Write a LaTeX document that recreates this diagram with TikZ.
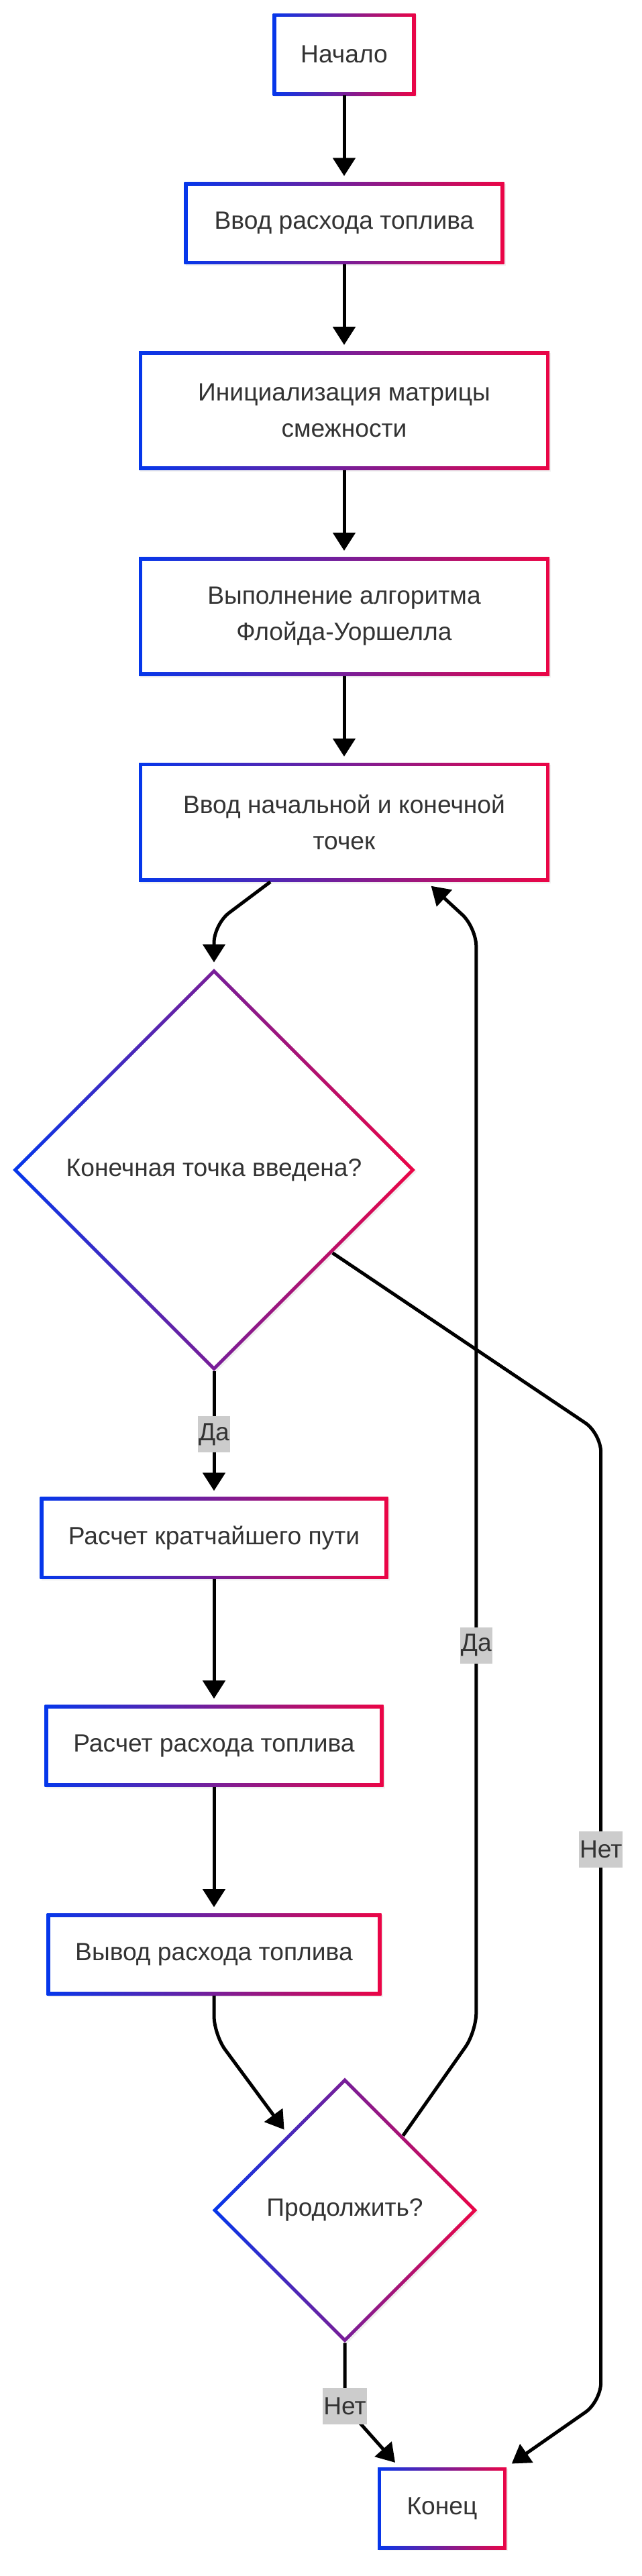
\documentclass[tikz,border=0pt]{standalone}
\usepackage{fontspec}
\setmainfont{Liberation Sans}
\usetikzlibrary{shapes.geometric,arrows.meta,positioning,calc,shadows}
\definecolor{gblue}{RGB}{5,55,235}
\definecolor{gred}{RGB}{235,5,70}
\definecolor{txt}{HTML}{333333}
\definecolor{lbl}{HTML}{CCCCCC}

\begin{document}
\begin{tikzpicture}[>={Triangle[length=13.5pt,width=16.5pt]},node distance=64.5pt]
\tikzstyle{B}=[left color=gblue,right color=gred,minimum height=61pt,align=center,text=txt,font=\fontsize{18.6pt}{27pt}\selectfont,drop shadow={opacity=0.12,shadow xshift=1.2pt,shadow yshift=-1.2pt},path picture={\fill[white] ([shift={(2.6pt,-2.6pt)}]path picture bounding box.north west) rectangle ([shift={(-2.6pt,2.6pt)}]path picture bounding box.south east);}]
\tikzstyle{D}=[diamond,left color=gblue,right color=gred,inner sep=0pt,align=center,text=txt,font=\fontsize{18.6pt}{27pt}\selectfont,drop shadow={opacity=0.12,shadow xshift=1.2pt,shadow yshift=-1.2pt},path picture={\fill[white] ($(path picture bounding box.west)+(3.6pt,0)$) -- ($(path picture bounding box.north)+(0,-3.6pt)$) -- ($(path picture bounding box.east)+(-3.6pt,0)$) -- ($(path picture bounding box.south)+(0,3.6pt)$) -- cycle;}]
\tikzstyle{T}=[sharp corners,fill=lbl,text=txt,font=\fontsize{18.6pt}{27pt}\selectfont,inner xsep=0.5pt,inner ysep=0pt,minimum height=27pt]
\tikzstyle{E}=[->,line width=2.5pt,rounded corners=14pt,shorten >=4.5pt]
\useasboundingbox (0,0) rectangle (478.5pt,-1920pt);
\node[B,minimum width=106.5pt] (st) at (256.5pt,-40.5pt) {Начало};
\node[B,minimum width=238.5pt,below=of st] (b1) {Ввод расхода топлива};
\node[B,minimum width=306pt,minimum height=88.5pt,below=of b1] (b2) {Инициализация матрицы\\смежности};
\node[B,minimum width=306pt,minimum height=88.5pt,below=of b2] (b3) {Выполнение алгоритма\\Флойда-Уоршелла};
\node[B,minimum width=306pt,minimum height=88.5pt,below=of b3] (b4) {Ввод начальной и конечной\\точек};
\node[D,minimum width=300pt,minimum height=300pt,below=of b4,xshift=-97pt] (d1) {Конечная точка введена?};
\node[B,minimum width=259.5pt,below=93.5pt of d1] (b5) {Расчет кратчайшего пути};
\node[B,minimum width=252.5pt,below=93.5pt of b5] (b6) {Расчет расхода топлива};
\node[B,minimum width=249.5pt,below=94pt of b6] (b7) {Вывод расхода топлива};
\node[D,minimum width=197.5pt,minimum height=197.5pt,below=61pt of b7,xshift=97.5pt] (d2) {Продолжить?};
\node[B,minimum width=96pt,below=92.5pt of d2,xshift=72.5pt] (en) {Конец};
\draw[E] (st) -- (b1); \draw[E] (b1) -- (b2);
\draw[E] (b2) -- (b3); \draw[E] (b3) -- (b4);
\draw[E] ([xshift=-55pt]b4.south) -- ([yshift=33pt]d1.north) -- (d1.north);
\draw[E] (d1) -- node[T] {Да} (b5);
\draw[E] (b5) -- (b6); \draw[E] (b6) -- (b7);
\draw[E] (b7.south) -- ++(0,-29pt) -- (d2.127);
\draw[E] (d2.52) -- ++(54.5pt,77.5pt) -- node[T,pos=0.35] {Да} ++(0,823pt) -- ([xshift=61.5pt]b4.south);
\draw[E] (d1.325) -- ++(200pt,-134.5pt) -- node[T,pos=0.43] {Нет} ++(0,-721.5pt) -- (en.north east);
\draw[E] (d2.south) -- ++(0,-47pt) node[T] {Нет} -- ([xshift=-32pt]en.north);
\end{tikzpicture}
\end{document}
